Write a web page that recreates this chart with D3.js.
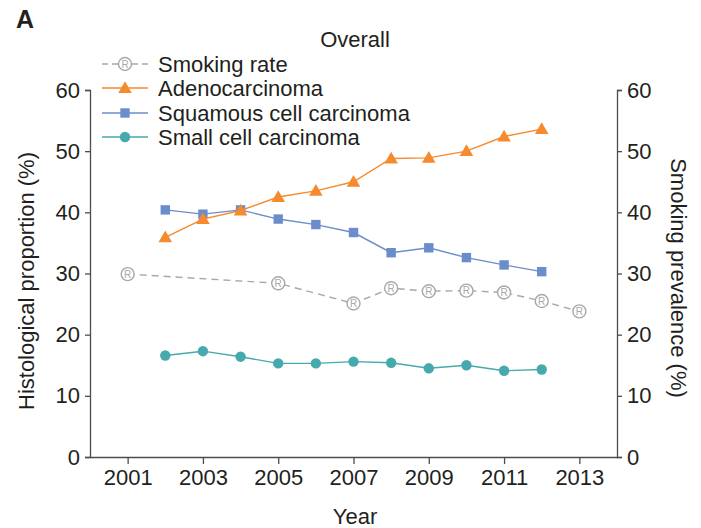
<!DOCTYPE html>
<html><head><meta charset="utf-8">
<script src="https://cdn.jsdelivr.net/npm/d3@7"></script>
<style>body{margin:0;background:#fff;} text{font-family:"Liberation Sans",Arial,sans-serif;fill:#231f20;}</style>
</head><body>
<svg id="c" width="701" height="528"></svg>
<script>
const years = [2001,2002,2003,2004,2005,2006,2007,2008,2009,2010,2011,2012,2013];
const smokingYears = [2001,2005,2007,2008,2009,2010,2011,2012,2013];
const smokingRate = [29.9,28.4,25.1,27.6,27.1,27.2,26.9,25.5,23.8];
const histYears = [2002,2003,2004,2005,2006,2007,2008,2009,2010,2011,2012];
const adeno = [35.9,38.9,40.3,42.5,43.5,45.0,48.8,48.9,50.0,52.4,53.6];
const squamous = [40.4,39.7,40.4,38.9,38.0,36.7,33.4,34.2,32.6,31.4,30.3];
const smallCell = [16.6,17.3,16.4,15.3,15.3,15.6,15.4,14.5,15.0,14.1,14.3];
const xTicks = [2001,2003,2005,2007,2009,2011,2013];
const yTicks = [0,10,20,30,40,50,60];
const legendLabels = ["Smoking rate","Adenocarcinoma","Squamous cell carcinoma","Small cell carcinoma"];

const C = {smoke:"#a8a8a8", adeno:"#f58a2e", squam:"#6b8dcb", small:"#45a9ad", axis:"#4d4d4d"};
const svg = d3.select("#c");
const L=90, R=617, T=90, B=457;
const x = d3.scaleLinear().domain([2000,2014]).range([L,R]);
const y = d3.scaleLinear().domain([0,60]).range([B,T]);
const y2 = d3.scaleLinear().domain([0,60]).range([B,T]);
const FS = 22;

function styleAxis(g){
  g.selectAll("path,line").attr("stroke",C.axis).attr("stroke-width",1.3);
  g.selectAll("text").attr("font-size",FS).attr("fill","#231f20").attr("font-family","Liberation Sans, Arial, sans-serif");
}
const gx = svg.append("g").attr("transform",`translate(0,${B})`)
  .call(d3.axisBottom(x).tickValues(xTicks).tickFormat(d3.format("d")).tickSize(7).tickSizeOuter(0).tickPadding(5));
styleAxis(gx);
const gy = svg.append("g").attr("transform",`translate(${L},0)`)
  .call(d3.axisLeft(y).tickValues(yTicks).tickSize(5).tickSizeOuter(5).tickPadding(5));
styleAxis(gy);
const gy2 = svg.append("g").attr("transform",`translate(${R},0)`)
  .call(d3.axisRight(y2).tickValues(yTicks).tickSize(5).tickSizeOuter(5).tickPadding(5));
styleAxis(gy2);

// titles
svg.append("text").attr("x",16).attr("y",28).attr("font-size",25).attr("font-weight","bold").text("A");
svg.append("text").attr("x",355).attr("y",47).attr("text-anchor","middle").attr("font-size",FS).text("Overall");
svg.append("text").attr("x",355).attr("y",524).attr("text-anchor","middle").attr("font-size",FS).text("Year");
svg.append("text").attr("transform","translate(34,281) rotate(-90)").attr("text-anchor","middle").attr("font-size",FS).text("Histological proportion (%)");
svg.append("text").attr("transform","translate(671,278) rotate(90)").attr("text-anchor","middle").attr("font-size",FS).text("Smoking prevalence (%)");

function drawSeries(xs, vs, scale, color, dash, marker){
  const data = xs.map((v,i)=>[v,vs[i]]);
  svg.append("path").datum(data).attr("fill","none").attr("stroke",color).attr("stroke-width",1.4)
    .attr("stroke-dasharray",dash||null)
    .attr("d",d3.line().x(d=>x(d[0])).y(d=>scale(d[1])));
  data.forEach(d=>marker(x(d[0]),scale(d[1])));
}
function tri(cx,cy){svg.append("path").attr("d",d3.symbol(d3.symbolTriangle,80)()).attr("transform",`translate(${cx},${cy+1})`).attr("fill",C.adeno);}
function sq(cx,cy){svg.append("rect").attr("x",cx-4.7).attr("y",cy-4.7).attr("width",9.4).attr("height",9.4).attr("fill",C.squam);}
function dot(cx,cy){svg.append("circle").attr("cx",cx).attr("cy",cy).attr("r",5.2).attr("fill",C.small);}
function rmark(cx,cy){
  svg.append("circle").attr("cx",cx).attr("cy",cy).attr("r",6.5).attr("fill","#fff").attr("stroke",C.smoke).attr("stroke-width",1.4);
  svg.append("text").attr("x",cx).attr("y",cy+3.6).attr("text-anchor","middle").attr("font-size",10).style("fill",C.smoke).text("R");
}

drawSeries(smokingYears, smokingRate, y2, C.smoke, "7,5", rmark);
drawSeries(histYears, smallCell, y, C.small, null, dot);
drawSeries(histYears, squamous, y, C.squam, null, sq);
drawSeries(histYears, adeno, y, C.adeno, null, tri);

// legend
const legendY=[64,88,113,137];
const legColors=[C.smoke,C.adeno,C.squam,C.small];
const legMarks=[rmark,tri,sq,dot];
legendLabels.forEach((lab,i)=>{
  svg.append("line").attr("x1",102).attr("x2",148).attr("y1",legendY[i]).attr("y2",legendY[i])
    .attr("stroke",legColors[i]).attr("stroke-width",1.4).attr("stroke-dasharray",i===0?"6,4":null);
  legMarks[i](125,legendY[i]);
  svg.append("text").attr("x",158).attr("y",legendY[i]+8).attr("font-size",FS).text(lab);
});
</script>
</body></html>
